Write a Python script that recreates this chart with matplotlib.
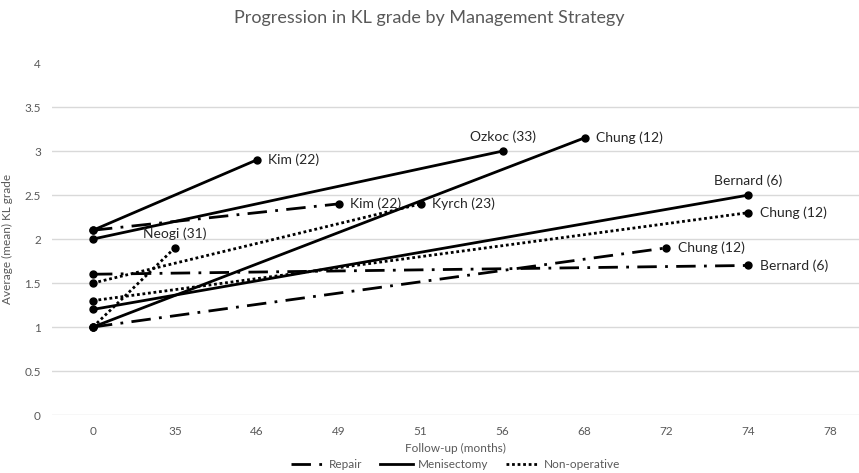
import matplotlib.pyplot as plt

plt.rcParams['font.family'] = ['Lato', 'DejaVu Sans']

months = ["0", "35", "46", "49", "51", "56", "68", "72", "74", "78"]

# each study: label, strategy, start grade, end month, end grade
studies = ["Kim (22)", "Ozkoc (33)", "Chung (12)", "Bernard (6)",
           "Kim (22)", "Chung (12)", "Bernard (6)",
           "Neogi (31)", "Kyrch (23)", "Chung (12)"]
strategy = ["Menisectomy"] * 4 + ["Repair"] * 3 + ["Non-operative"] * 3
start_grade = [2.1, 2.0, 1.0, 1.2, 2.1, 1.0, 1.6, 1.0, 1.5, 1.3]
end_month = ["46", "56", "68", "74", "49", "72", "74", "35", "51", "74"]
end_grade = [2.9, 3.0, 3.15, 2.5, 2.4, 1.9, 1.7, 1.9, 2.4, 2.3]
# where the data label sits: right of the point or above it
label_pos = ["right", "above", "right", "above",
             "right", "right", "right", "above", "right", "right"]

styles = {
    "Repair": dict(linestyle=(0, (7, 3, 1, 3))),
    "Menisectomy": dict(linestyle="-"),
    "Non-operative": dict(linestyle=(0, (1, 1))),
}

grey = "#595959"

fig = plt.figure(figsize=(8.59, 4.73), dpi=100)
ax = fig.add_axes([0.0605, 0.1226, 0.9395, 0.744])

for i in range(len(studies)):
    xs = [0, months.index(end_month[i])]
    ys = [start_grade[i], end_grade[i]]
    ax.plot(xs, ys, color="black", lw=2, marker="o", markersize=5,
            **styles[strategy[i]])
    if label_pos[i] == "right":
        ax.annotate(studies[i], (xs[1], ys[1]), xytext=(8, 0),
                    textcoords="offset points", ha="left", va="center",
                    fontsize=10, color="#262626")
    else:
        ax.annotate(studies[i], (xs[1], ys[1]), xytext=(0, 6),
                    textcoords="offset points", ha="center", va="bottom",
                    fontsize=10, color="#262626")

ax.set_xlim(-0.5, 9.35)
ax.set_ylim(0, 4)
ax.set_xticks(range(len(months)))
ax.set_xticklabels(months)
ax.set_yticks([0, 0.5, 1, 1.5, 2, 2.5, 3, 3.5, 4])
ax.set_yticklabels(["0", "0.5", "1", "1.5", "2", "2.5", "3", "3.5", "4"])
ax.tick_params(length=0, colors=grey, labelsize=8.5, pad=8)
ax.yaxis.grid(True, color="#d9d9d9", lw=1)
ax.get_ygridlines()[-1].set_visible(False)
ax.set_axisbelow(True)
for s in ax.spines.values():
    s.set_visible(False)

ax.set_xlabel("Follow-up (months)", fontsize=8.5, color=grey, labelpad=4)
ax.set_ylabel("Average (mean) KL grade", fontsize=8.5, color=grey, labelpad=8)
fig.text(0.5, 0.962, "Progression in KL grade by Management Strategy",
         ha="center", va="center", fontsize=13, color=grey)

handles = []
for name in ["Repair", "Menisectomy", "Non-operative"]:
    h, = ax.plot([], [], color="black", lw=2, **styles[name])
    handles.append(h)
fig.legend(handles, ["Repair", "Menisectomy", "Non-operative"],
           loc="center", bbox_to_anchor=(0.53, 0.018), ncol=3,
           frameon=False, fontsize=8.5, labelcolor=grey,
           handlelength=2.8, columnspacing=1.5, handletextpad=0.4)

fig.savefig("out.png", dpi=100)
